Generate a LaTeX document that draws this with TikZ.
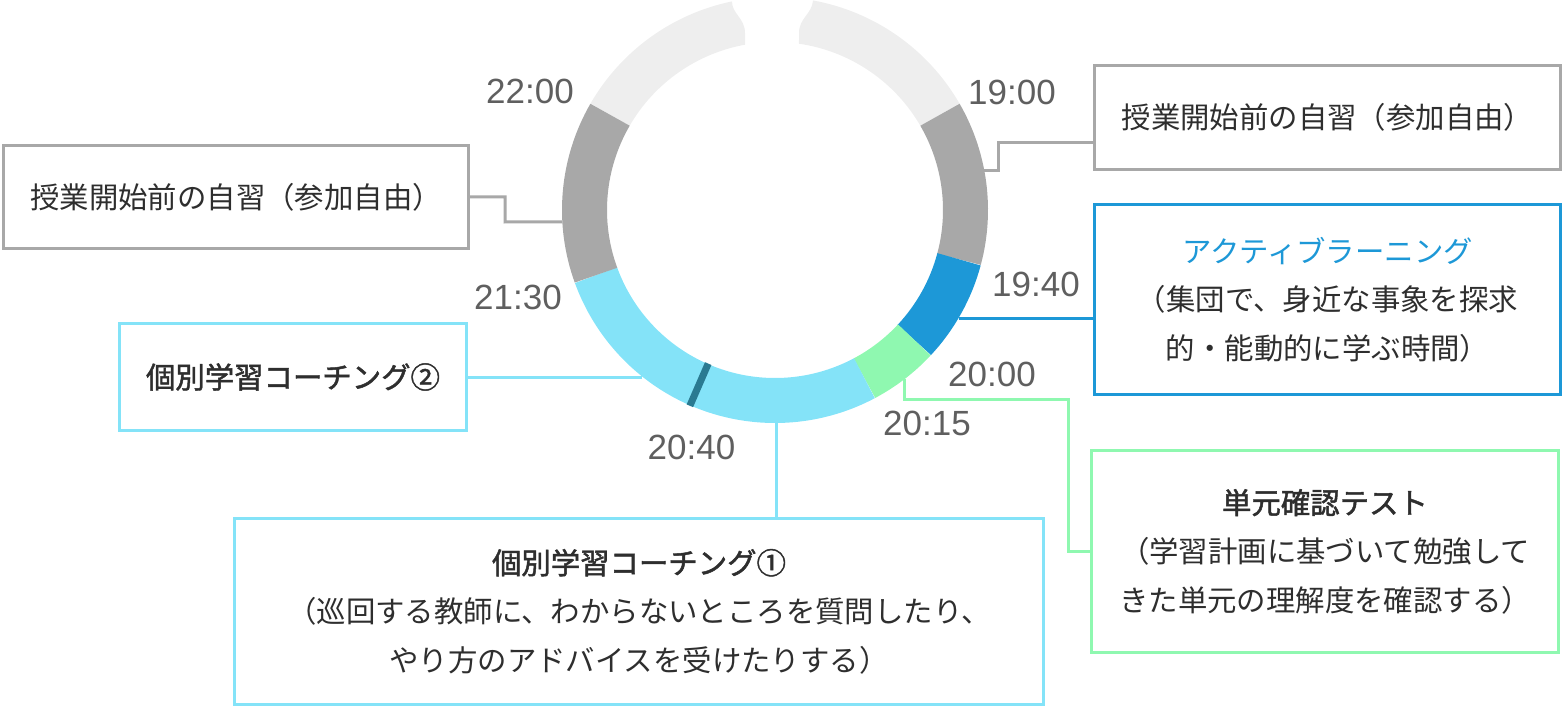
\documentclass[tikz,border=0pt]{standalone}
\usepackage{fontspec}
\setmainfont{Noto Sans CJK JP}
\newfontfamily\midfont[FakeBold=1.6]{Noto Sans CJK JP}
\newfontfamily\timefont{Liberation Sans}
\definecolor{ringlight}{HTML}{EEEEEE}
\definecolor{ringgray}{HTML}{A8A8A8}
\definecolor{ringblue}{HTML}{1D98D7}
\definecolor{ringgreen}{HTML}{8FF8B0}
\definecolor{ringcyan}{HTML}{84E3F8}
\definecolor{ringteal}{HTML}{2A7A91}
\definecolor{boxtext}{HTML}{2E2E2E}
\definecolor{timetext}{HTML}{5F5F5F}
\begin{document}
\begin{tikzpicture}[x=0.5pt,y=0.5pt,
  seg/.style={line width=22.5pt},
  box/.style={rectangle,line width=1.5pt,fill=white,text=boxtext,align=center,font=\fontsize{14.7}{24.3}\selectfont},
  link/.style={line width=1.5pt},
  time/.style={text=timetext,font=\timefont\fontsize{17.5}{20}\selectfont}]
\useasboundingbox (0,0) rectangle (1564,708);
\coordinate (C) at (775,498);
\fill[ringlight] ([shift={(150:213)}]C) arc[start angle=150,end angle=101.65,radius=213]
  .. controls (732,694) and (745,690) .. (745,675) -- ([shift={(100.29:168)}]C)
  arc[start angle=100.29,end angle=150,radius=168] -- cycle;
\fill[ringlight] ([shift={(30:213)}]C) arc[start angle=30,end angle=79.72,radius=213]
  .. controls (812,694) and (799,690) .. (799,675) -- ([shift={(81.79:168)}]C)
  arc[start angle=81.79,end angle=30,radius=168] -- cycle;
\draw[seg,ringgray] ([shift={(30:190.5)}]C) arc[start angle=30,end angle=-15,radius=190.5];
\draw[seg,ringblue] ([shift={(-15:190.5)}]C) arc[start angle=-15,end angle=-43,radius=190.5];
\draw[seg,ringgreen] ([shift={(-43:190.5)}]C) arc[start angle=-43,end angle=-62,radius=190.5];
\draw[seg,ringcyan] ([shift={(-62:190.5)}]C) arc[start angle=-62,end angle=-160,radius=190.5];
\draw[seg,ringgray] ([shift={(-160:190.5)}]C) arc[start angle=-160,end angle=-210,radius=190.5];
\draw[ringteal,line width=3.5pt] ([shift={(-113.5:167.5)}]C) -- ([shift={(-113.5:213.5)}]C);
\coordinate (r1) at ([shift={(10.8:213)}]C);
\coordinate (r2) at ([shift={(183.2:213)}]C);
\coordinate (r3) at ([shift={(-30.5:213)}]C);
\coordinate (r4) at ([shift={(-52.4:213)}]C);
\coordinate (r5) at ([shift={(-89.5:213)}]C);
\coordinate (r6) at ([shift={(231.2:213)}]C);
\node[box,draw=ringgray,minimum width=232.5pt,minimum height=51.5pt] (selfL) at (236,511) {授業開始前の自習（参加自由）};
\node[box,draw=ringgray,minimum width=233pt,minimum height=52pt] (selfR) at (1327.5,590.5) {授業開始前の自習（参加自由）};
\node[box,draw=ringblue,minimum width=233pt,minimum height=95pt] (active) at (1327.5,408.5) {\textcolor{ringblue}{アクティブラーニング}\\（集団で、身近な事象を探求\\的・能動的に学ぶ時間）};
\node[box,draw=ringgreen,minimum width=233.5pt,minimum height=101pt] (test) at (1325,156.5) {{\midfont 単元確認テスト}\\（学習計画に基づいて勉強して\\きた単元の理解度を確認する）};
\node[box,draw=ringcyan,minimum width=404.5pt,minimum height=93pt] (coachA) at (639,96.5) {{\midfont 個別学習コーチング①}\\（巡回する教師に、わからないところを質問したり、\\やり方のアドバイスを受けたりする）};
\node[box,draw=ringcyan,minimum width=173.5pt,minimum height=53.5pt] (coachB) at (293,331) {{\midfont 個別学習コーチング②}};
\draw[link,ringgray] (selfR.west |- 0,565) -- (998,565) |- (r1);
\draw[link,ringgray] (selfL.east) -| (505,486) -- (r2);
\draw[link,ringblue] (r3) -- (r3 -| active.west);
\draw[link,ringgreen] (r4) |- (1068,309) |- (test.west);
\draw[link,ringcyan] (r5) -- (r5 |- coachA.north);
\draw[link,ringcyan] (coachB.east) -- (coachB.east -| r6);
\node[time] (t1900) at (1012,616) {19:00};
\node[time] (t1940) at (1036,424) {19:40};
\node[time] (t2000) at (992,333.5) {20:00};
\node[time] (t2015) at (927,284.5) {20:15};
\node[time] (t2040) at (691.5,260.5) {20:40};
\node[time] (t2130) at (518,411) {21:30};
\node[time] (t2200) at (530,617) {22:00};
\end{tikzpicture}
\end{document}
